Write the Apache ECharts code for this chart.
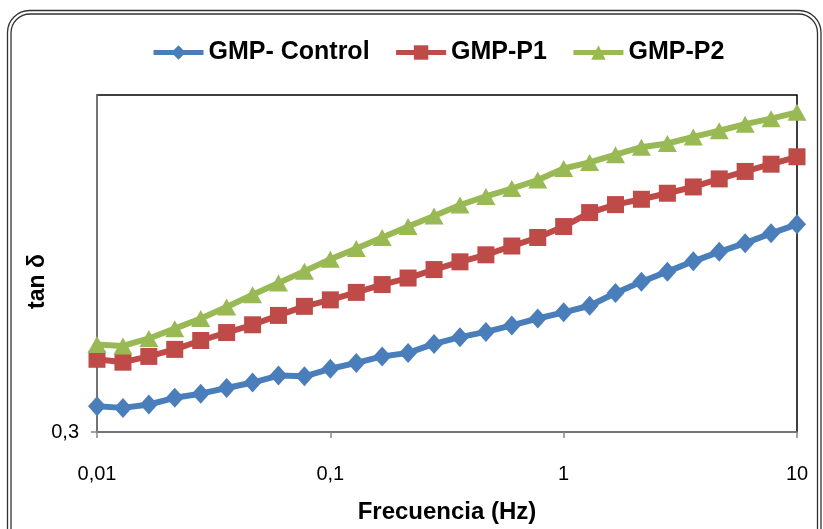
<!DOCTYPE html>
<html>
<head>
<meta charset="utf-8">
<script src="https://cdn.jsdelivr.net/npm/echarts@6/dist/echarts.min.js"></script>
<style>
  html, body { margin: 0; padding: 0; background: #fff; }
  #chart { width: 823px; height: 529px; }
</style>
</head>
<body>
<div id="chart"></div>
<script>
// Frequency sweep (Hz), nine points per decade
const frequency = [
  0.01, 0.01292, 0.01668, 0.02154, 0.02783, 0.03594, 0.04642, 0.05995, 0.07743,
  0.1, 0.1292, 0.1668, 0.2154, 0.2783, 0.3594, 0.4642, 0.5995, 0.7743,
  1, 1.292, 1.668, 2.154, 2.783, 3.594, 4.642, 5.995, 7.743, 10
];

// Loss tangent for each sample
const gmpControl = [
  0.329, 0.327, 0.331, 0.339, 0.344, 0.351, 0.358, 0.367, 0.366,
  0.376, 0.384, 0.393, 0.398, 0.411, 0.421, 0.429, 0.439, 0.450,
  0.460, 0.471, 0.493, 0.513, 0.532, 0.552, 0.571, 0.589, 0.610, 0.630
];
const gmpP1 = [
  0.389, 0.385, 0.393, 0.403, 0.416, 0.428, 0.440, 0.455, 0.470,
  0.481, 0.494, 0.508, 0.520, 0.536, 0.551, 0.565, 0.583, 0.601,
  0.625, 0.657, 0.676, 0.689, 0.704, 0.720, 0.741, 0.761, 0.781, 0.802
];
const gmpP2 = [
  0.410, 0.408, 0.419, 0.434, 0.450, 0.469, 0.490, 0.511, 0.533,
  0.556, 0.578, 0.601, 0.625, 0.649, 0.675, 0.696, 0.716, 0.738,
  0.769, 0.786, 0.808, 0.830, 0.841, 0.861, 0.880, 0.901, 0.919, 0.940
];

const seriesNames = ['GMP- Control', 'GMP-P1', 'GMP-P2'];
const xTitle = 'Frecuencia (Hz)';
const yTitle = 'tan δ';
const yLabelValues = [0.3];

const FONT = '"Liberation Sans", Arial, sans-serif';
const pairs = (ys) => frequency.map((f, i) => [f, ys[i]]);
const commaDecimal = (v) => String(Number(v.toPrecision(3))).replace('.', ',');

function lineSeries(name, data, color, symbol, size) {
  return {
    name: name,
    type: 'line',
    data: pairs(data),
    symbol: symbol,
    symbolSize: size,
    showAllSymbol: true,
    lineStyle: { color: color, width: 6 },
    itemStyle: { color: color },
    emphasis: { disabled: true },
    z: 3
  };
}

const chart = echarts.init(document.getElementById('chart'), null, { renderer: 'canvas' });

chart.setOption({
  animation: false,
  backgroundColor: '#ffffff',
  textStyle: { fontFamily: FONT },
  graphic: [
    {
      type: 'rect',
      shape: { x: 7.5, y: 10.5, width: 813.5, height: 540, r: 22 },
      style: { fill: 'none', stroke: '#333', lineWidth: 1.3 },
      silent: true
    },
    {
      type: 'rect',
      shape: { x: 11, y: 14, width: 806.5, height: 540, r: 19 },
      style: { fill: 'none', stroke: '#333', lineWidth: 1.3 },
      silent: true
    }
  ],
  legend: {
    top: 35,
    left: 146,
    itemWidth: 50,
    itemHeight: 18,
    itemGap: 24,
    lineStyle: { width: 5 },
    textStyle: { fontSize: 25, fontWeight: 'bold', color: '#000', fontFamily: FONT },
    data: seriesNames
  },
  grid: {
    left: 97,
    right: 26,
    top: 95,
    bottom: 92.5,
    show: true,
    borderColor: '#000',
    borderWidth: 1.5,
    backgroundColor: 'transparent'
  },
  xAxis: {
    type: 'log',
    logBase: 10,
    min: 0.01,
    max: 10,
    name: xTitle,
    nameLocation: 'middle',
    nameGap: 68,
    nameMoveOverlap: false,
    nameTextStyle: { fontSize: 24, fontWeight: 'bold', color: '#000' },
    axisLine: { show: true, lineStyle: { color: '#868686', width: 1.5 } },
    axisTick: { show: true, length: 6, lineStyle: { color: '#868686', width: 1.5 } },
    minorTick: { show: false },
    splitLine: { show: false },
    axisLabel: {
      fontSize: 20,
      color: '#000',
      margin: 32,
      formatter: commaDecimal
    }
  },
  yAxis: {
    type: 'log',
    logBase: 10,
    min: 0.3,
    max: 1,
    name: yTitle,
    nameLocation: 'middle',
    nameRotate: 90,
    nameGap: 48,
    nameMoveOverlap: false,
    nameTextStyle: { fontSize: 23, fontWeight: 'bold', color: '#000', padding: [0, 36, 0, 0] },
    axisLine: { show: true, lineStyle: { color: '#868686', width: 1.5 } },
    axisTick: {
      show: true,
      length: 6,
      customValues: yLabelValues,
      lineStyle: { color: '#868686', width: 1.5 }
    },
    splitLine: { show: false },
    axisLabel: {
      fontSize: 20,
      color: '#000',
      margin: 18,
      customValues: yLabelValues,
      formatter: (v) => (Math.abs(v - 0.3) < 1e-6 ? '0,3' : '')
    }
  },
  series: [
    lineSeries(seriesNames[0], gmpControl, '#4A7EBB', 'diamond', [18, 20]),
    lineSeries(seriesNames[1], gmpP1, '#BE4B48', 'rect', 17),
    lineSeries(seriesNames[2], gmpP2, '#98B954', 'triangle', [19, 17])
  ]
});
</script>
</body>
</html>
